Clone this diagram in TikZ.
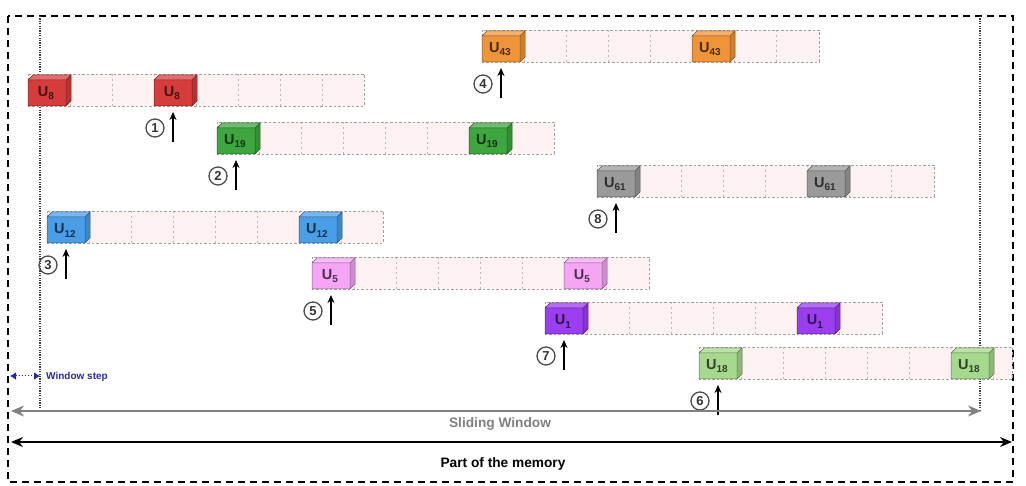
\documentclass[tikz,border=0pt]{standalone}
\usepackage{fontspec}
\setmainfont{Liberation Sans}
\usetikzlibrary{arrows.meta}
\definecolor{cRed}{HTML}{D63C3C}
\definecolor{cOrange}{HTML}{F0943A}
\definecolor{cGreen}{HTML}{3EA63E}
\definecolor{cGray}{HTML}{9A9A9A}
\definecolor{cBlue}{HTML}{4A9EE8}
\definecolor{cPink}{HTML}{F4A6F4}
\definecolor{cPurple}{HTML}{9A3EF0}
\definecolor{cLight}{HTML}{A6D88E}
\definecolor{stripbg}{HTML}{FDF1F1}
\definecolor{stepblue}{HTML}{2A2AA0}
\newcommand\ulab[1]{{\fontsize{14.5}{14.5}\selectfont\bfseries U\raisebox{-0.4ex}{\fontsize{10}{10}\selectfont #1}}}
% cube: #1 name, #2 x, #3 y, #4 colour, #5 label
\newcommand\memcube[5]{%
  \fill[#4] (#2,#3+6) rectangle (#2+38,#3+32);
  \fill[#4!75!white] (#2,#3+6) -- (#2+5,#3+1) -- (#2+43,#3+1) -- (#2+38,#3+6) -- cycle;
  \fill[#4!85!black] (#2+38,#3+6) -- (#2+43,#3+1) -- (#2+43,#3+27) -- (#2+38,#3+32) -- cycle;
  \draw[cubeedge=#4] (#2,#3+6) rectangle (#2+38,#3+32)
     (#2,#3+6) -- (#2+5,#3+1) -- (#2+43,#3+1) -- (#2+38,#3+6)
     (#2+43,#3+1) -- (#2+43,#3+27) -- (#2+38,#3+32);
  \node[cubelabel=#4] (#1) at (#2+18,#3+19.5) {\ulab{#5}};
}
% row: #1 name, #2 x0, #3 y, #4 xend, #5 second cube index, #6 colour, #7 label, #8 arrow cube index, #9 number
\newcommand\memrow[9]{%
  \fill[stripbg] (#2,#3) rectangle (#4,#3+32);
  \foreach \k in {1,...,7}{%
    \pgfmathsetmacro\xx{#2+42*\k}%
    \pgfmathparse{\xx<#4?1:0}%
    \ifnum\pgfmathresult=1
      \draw[celldiv] (\xx,#3) -- (\xx,#3+32);
    \fi
  }
  \draw[stripborder] (#2,#3) rectangle (#4,#3+32);
  \memcube{#1a}{#2}{#3}{#6}{#7}
  \memcube{#1b}{#2+42*#5}{#3}{#6}{#7}
  \coordinate (#1tip) at (#2+42*#8+19,#3+38);
  \coordinate (#1base) at (#2+42*#8+19,#3+68);
  \draw[uparrow] (#1base) -- (#1tip);
  \node[numcirc] (#1num) at (#2+42*#8+1,#3+54) {#9};
}
\tikzset{
  stripborder/.style={draw=gray!75, line width=0.8pt, dash pattern=on 2.5pt off 2pt},
  celldiv/.style={draw=gray!55, line width=0.7pt, dash pattern=on 2pt off 3pt},
  cubeedge/.style={draw=#1!55!black, line width=0.5pt},
  cubelabel/.style={text=#1!30!black, inner sep=0pt},
  uparrow/.style={line width=1.8pt, -{Stealth[length=8pt,width=7pt]}},
  numcirc/.style={circle, draw=black!70, line width=1.3pt, inner sep=0pt, minimum size=18pt, font=\fontsize{13}{13}\selectfont\bfseries, text=black!80},
  guide/.style={line width=1.3pt, dash pattern=on 1.2pt off 1.2pt, black!75},
}
\begin{document}
\begin{tikzpicture}[x=1pt,y=-1pt]
\useasboundingbox (0,0) rectangle (1026,486);
% outer frame
\draw[line width=1.6pt, dash pattern=on 7pt off 5pt] (8,16) rectangle (1013,482);
% window guides
\coordinate (gl0) at (40,16); \coordinate (gl1) at (40,410);
\coordinate (gr0) at (980,16); \coordinate (gr1) at (980,410);
\draw[guide] (gl0) -- (gl1);
\draw[guide] (gr0) -- (gr1);
% rows
\memrow{ra}{28}{74}{364}{3}{cRed}{8}{3}{1}
\memrow{rb}{217}{122}{554}{6}{cGreen}{19}{0}{2}
\memrow{rc}{47}{211}{383}{6}{cBlue}{12}{0}{3}
\memrow{rd}{482}{30}{819}{5}{cOrange}{43}{0}{4}
\memrow{re}{312}{257}{649}{6}{cPink}{5}{0}{5}
\memrow{rf}{699}{347}{1012}{6}{cLight}{18}{0}{6}
\memrow{rg}{545}{302}{882}{6}{cPurple}{1}{0}{7}
\memrow{rh}{597}{165}{934}{5}{cGray}{61}{0}{8}
% window step
\coordinate (ws0) at (10,376); \coordinate (ws1) at (40,376);
\draw[stepblue, line width=1pt, dash pattern=on 1.5pt off 1.5pt, {Latex[length=6pt,width=8pt]}-{Latex[length=6pt,width=8pt]}] (ws0) -- (ws1);
\node[anchor=west, text=stepblue, font=\fontsize{10}{10}\selectfont\bfseries, inner sep=0pt] (wslab) at (46,376.5) {Window step};
% sliding window
\coordinate (sw0) at (11,411); \coordinate (sw1) at (981,411);
\draw[black!50, line width=2.2pt, {Stealth[length=13pt,width=11pt]}-{Stealth[length=13pt,width=11pt]}] (sw0) -- (sw1);
\node[text=black!50, font=\fontsize{13.7}{13.7}\selectfont\bfseries] (swlab) at (500,424) {Sliding Window};
% part of the memory
\coordinate (pm0) at (11,442); \coordinate (pm1) at (1012,442);
\draw[black, line width=2.2pt, {Stealth[length=12pt,width=10pt]}-{Stealth[length=12pt,width=10pt]}] (pm0) -- (pm1);
\node[text=black, font=\fontsize{13.7}{13.7}\selectfont\bfseries] (pmlab) at (503,464) {Part of the memory};
\end{tikzpicture}
\end{document}
